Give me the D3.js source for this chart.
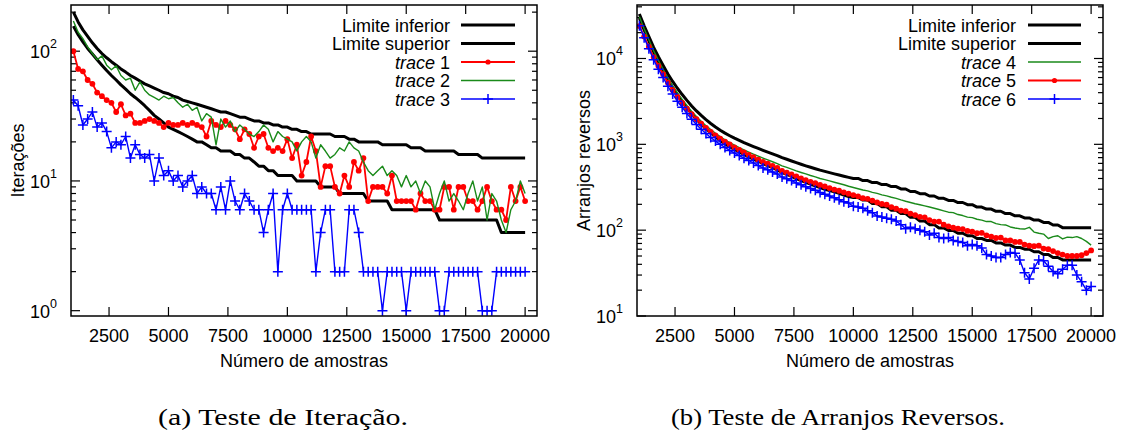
<!DOCTYPE html>
<html>
<head>
<meta charset="utf-8">
<script src="https://cdn.jsdelivr.net/npm/d3@7"></script>
<style>
    body { margin: 0; background: #fff; }
    svg { display: block; }
    text { font-family: "Liberation Sans", Arial, Helvetica, sans-serif; }
</style>
</head>
<body>
<div id="chart"></div>
<script>
// sample sizes (x axis), one value every 200 samples
const samples = d3.range(1000, 20001, 200);
const xTicks = [2500, 5000, 7500, 10000, 12500, 15000, 17500, 20000];

// (a) Teste de Iteração
const iterLower = [156,134,118,105,95,86,78,71,65,60, 55,51,47,44,41,38,35,32,30,28,
    26,25,24,23,22,21,20,20,19,18, 18,17,17,17,16,16,15,15,14,13,
    13,12,12,11,11,11,11,10,10,10, 10,10,9,9,9,9,8,8,8,8,
    8,8,7,7,7,7,7,6,6,6, 6,6,6,6,6,6,6,5,5,5,
    5,5,5,5,5,5,5,5,5,5, 4,4,4,4,4,4];
const iterUpper = [200,168,146,130,116,105,96,89,83,78, 73,69,65,62,59,56,54,52,50,48,
    47,45,44,42,41,40,39,38,37,36, 35,34,34,33,32,31,31,30,29,29,
    28,28,27,27,26,26,25,25,24,24, 23,23,23,23,23,22,22,22,21,21,
    20,20,20,20,20,19,19,19,19,19, 19,18,18,18,17,17,17,17,17,17,
    17,16,16,16,16,16,15,15,15,15, 15,15,15,15,15,15];
const trace1 = [100,73,70,60,56,48,45,42,40,34, 39,32,33,28,28,29,30,29,28,26,
    28,27,27,28,27,28,27,26,22,29, 27,26,29,27,25,21,25,23,18,22,
    23,18,17,18,17,21,15,19,11,14, 22,17,9,13,13,9,8,11,9,14,
    12,15,7,9,9,9,8,11,7,7, 7,7,6,8,7,7,6,6,9,9,
    6,9,9,7,7,6,7,9,7,6, 6,5,9,7,9,7];
const trace2 = [171,140,125,108,96,86,92,78,72,77, 65,60,62,50,58,50,46,44,42,45,
    43,44,40,37,39,35,37,29,33,31, 19,30,26,29,24,27,25,23,22,24,
    27,25,20,24,22,21,20,17,20,22, 20,15,19,17,15,16,18,17,20,18,
    17,14,12,11,12,13,11,12,11,9, 11,9,10,8,10,9,6,8,10,7,
    8,7,6,8,10,7,9,5,8,7, 5,4,6,7,10,8];
const trace3 = [42,38,27,30,34,26,28,24,18,20, 19,22,15,19,16,15,16,10,15,11,
    12,10,11,9,10,11,8,9,8,8, 6,9,6,10,7,6,8,7,6,6,
    4,6,8,2,6,8,6,6,6,6, 6,2,4,6,6,2,2,2,6,6,
    4,2,2,2,2,1,2,2,2,2, 1,2,2,2,2,2,2,1,1,2,
    2,2,2,2,2,2,1,1,1,2, 2,2,2,2,2,2];

// (b) Teste de Arranjos Reversos
const revLower = [29700,21500,16000,11900,9150,7140,5640,4590,3780,3150,
    2665,2270,1960,1715,1523,1365,1224,1110,1013,939,
    873,816,763,713,672,635,596,564,535,503, 469,446,422,398,378,360,343,328,313,300,
    290,279,268,257,247,240,240,224,224,204, 204,187,187,171,171,156,156,141,141,128,
    128,116,116,106,106,99,99,92,92,86, 86,80,80,76,76,71,71,67,67,63,
    63,60,60,56,56,52,52,48,48,45, 45,45,45,45,45,45];
const revUpper = [33000,24000,18000,13500,10500,8300,6600,5400,4500,3800,
    3250,2800,2450,2170,1940,1750,1590,1460,1350,1260,
    1180,1110,1045,990,940,895,852,812,775,740, 700,670,640,612,586,562,540,520,500,484,
    468,453,439,425,412,400,400,378,378,358, 358,340,340,322,322,302,302,282,282,266,
    266,250,250,235,235,222,222,210,210,198, 198,186,186,176,176,166,166,156,156,147,
    147,139,139,131,131,123,123,115,115,107, 107,107,107,107,107,107];
const trace4 = [30700,22200,16500,12300,9500,7470,5900,4800,3980,3340,
    2830,2420,2110,1860,1650,1490,1345,1230,1130,1050,
    980,915,860,812,768,730,692,658,627,597, 562,538,515,490,470,452,433,418,400,388,
    375,362,350,338,325,314,304,294,287,276, 268,258,251,242,235,225,217,210,203,198,
    192,186,180,174,168,162,160,152,148,142, 140,134,131,126,126,119,116,115,109,106,
    104,103,108,95,92,90,80,84,86,79, 83,82,84,80,74,67];
const trace5 = [23800,18000,13700,10400,8190,6560,5230,4290,3580,3030,
    2600,2240,1960,1736,1552,1400,1272,1168,1075,995,
    920,860,805,755,710,662,625,595,562,530, 490,467,445,424,402,382,366,352,336,323,
    309,297,288,276,266,256,248,236,232,221, 210,202,198,186,178,169,166,156,150,143,
    141,131,126,126,116,111,107,104,103,98, 96,92,93,87,84,81,82,76,76,73,
    73,68,66,65,66,61,60,57,54,52, 50,50,50,51,54,58];
const trace6 = [24000,17500,13000,9700,7500,6000,4750,3850,3180,2700,
    2280,1960,1700,1500,1340,1200,1090,1000,920,850,
    790,740,690,648,606,565,530,505,476,450, 416,396,378,355,338,320,305,292,275,262,
    250,238,226,214,207,190,186,180,168,160, 146,142,138,134,128,116,104,108,104,100,
    96,88,92,82,80,82,76,74,72,66, 68,66,62,52,50,48,48,52,55,54,
    45,32,27,36,45,44,38,33,31,35, 39,39,30,25,20,22];

const W = 1126, H = 441;
const plotTop = 5, plotBottom = 316;

const svg = d3.select("#chart").append("svg")
    .attr("width", W)
    .attr("height", H);

function drawPanel(cfg) {
    const x = d3.scaleLinear().domain([900, 20500]).range([cfg.left, cfg.right]);
    const y = d3.scaleLog().domain(cfg.yDomain).range([plotBottom, plotTop]);
    const g = svg.append("g");

    // clip so nothing leaks outside the frame
    const clipId = "clip-" + cfg.id;
    g.append("clipPath").attr("id", clipId)
        .append("rect")
        .attr("x", cfg.left).attr("y", plotTop)
        .attr("width", cfg.right - cfg.left).attr("height", plotBottom - plotTop);

    // ticks: x at bottom and top, y on both sides (log with minors)
    const ticks = g.append("g").attr("stroke", "#000").attr("stroke-width", 1.2);
    xTicks.forEach(t => {
        ticks.append("line").attr("x1", x(t)).attr("x2", x(t)).attr("y1", plotBottom).attr("y2", plotBottom - 9);
        ticks.append("line").attr("x1", x(t)).attr("x2", x(t)).attr("y1", plotTop).attr("y2", plotTop + 9);
    });
    const [lo, hi] = cfg.yDomain;
    for (let k = Math.floor(Math.log10(lo)); k <= Math.ceil(Math.log10(hi)); k++) {
        for (let m = 1; m <= 9; m++) {
            const v = m * Math.pow(10, k);
            if (v < lo || v > hi) continue;
            const len = m === 1 ? 9 : 5;
            ticks.append("line").attr("x1", cfg.left).attr("x2", cfg.left + len).attr("y1", y(v)).attr("y2", y(v));
            ticks.append("line").attr("x1", cfg.right).attr("x2", cfg.right - len).attr("y1", y(v)).attr("y2", y(v));
            if (m === 1) {
                const lab = g.append("text")
                    .attr("x", cfg.left - 14)
                    .attr("y", y(v) + 7)
                    .attr("text-anchor", "end")
                    .attr("font-size", 18);
                lab.append("tspan").text("10");
                lab.append("tspan").attr("dy", -10).attr("font-size", 12.5).text(k);
            }
        }
    }

    g.selectAll(".xlab")
        .data(xTicks)
        .join("text")
        .attr("x", d => x(d))
        .attr("y", 342)
        .attr("text-anchor", "middle")
        .attr("font-size", 18)
        .text(d => d);

    g.append("text")
        .attr("x", (cfg.left + cfg.right) / 2)
        .attr("y", 367)
        .attr("text-anchor", "middle")
        .attr("font-size", 18)
        .text("Número de amostras");

    g.append("text")
        .attr("transform", `translate(${cfg.titleX},${(plotTop + plotBottom) / 2}) rotate(-90)`)
        .attr("text-anchor", "middle")
        .attr("font-size", 18)
        .text(cfg.yTitle);

    // series
    const line = d3.line()
        .x((d, i) => x(samples[i]))
        .y(d => y(d));
    const plot = g.append("g").attr("clip-path", `url(#${clipId})`);

    cfg.series.forEach(s => {
        plot.append("path")
            .attr("d", line(s.values))
            .attr("fill", "none")
            .attr("stroke", s.color)
            .attr("stroke-width", s.width)
            .attr("stroke-linejoin", "round");
        if (s.marker === "dot") {
            plot.append("g").selectAll("circle")
                .data(s.values)
                .join("circle")
                .attr("cx", (d, i) => x(samples[i]))
                .attr("cy", d => y(d))
                .attr("r", 2.9)
                .attr("fill", s.color);
        } else if (s.marker === "plus") {
            plot.append("g").selectAll("path")
                .data(s.values)
                .join("path")
                .attr("d", (d, i) => `M${x(samples[i]) - 5},${y(d)}h10M${x(samples[i])},${y(d) - 5}v10`)
                .attr("stroke", s.color)
                .attr("stroke-width", 1.5);
        }
    });

    // legend
    cfg.series.forEach((s, i) => {
        const cy = 25 + i * 18.5;
        const t = g.append("text")
            .attr("x", cfg.legendText)
            .attr("y", cy + 6.5)
            .attr("text-anchor", "end")
            .attr("font-size", 18);
        if (s.italic) {
            t.append("tspan").attr("font-style", "italic").text(s.label);
            t.append("tspan").text(" " + s.num);
        } else {
            t.text(s.label);
        }
        const [l0, l1] = cfg.legendLine;
        g.append("line")
            .attr("x1", l0).attr("x2", l1).attr("y1", cy).attr("y2", cy)
            .attr("stroke", s.color)
            .attr("stroke-width", s.width);
        const mx = (l0 + l1) / 2;
        if (s.marker === "dot") {
            g.append("circle").attr("cx", mx).attr("cy", cy).attr("r", 2.6).attr("fill", s.color);
        } else if (s.marker === "plus") {
            g.append("path").attr("d", `M${mx - 5},${cy}h10M${mx},${cy - 5}v10`)
                .attr("stroke", s.color).attr("stroke-width", 1.5);
        }
    });

    // frame
    g.append("rect")
        .attr("x", cfg.left).attr("y", plotTop)
        .attr("width", cfg.right - cfg.left).attr("height", plotBottom - plotTop)
        .attr("fill", "none")
        .attr("stroke", "#000")
        .attr("stroke-width", 1.5);

    // caption below the panel
    g.append("text")
        .attr("x", cfg.captionX)
        .attr("y", 425)
        .attr("text-anchor", "middle")
        .attr("font-size", 23)
        .attr("textLength", cfg.captionW)
        .attr("lengthAdjust", "spacingAndGlyphs")
        .style("font-family", '"Liberation Serif", "Times New Roman", serif')
        .text(cfg.caption);
}

const black = "#000", red = "#ff0000", green = "#1a8a1a", blue = "#0000ff";

drawPanel({
    id: "iter",
    left: 71, right: 537,
    yDomain: [0.91, 227],
    yTitle: "Iterações",
    titleX: 24,
    legendText: 450,
    legendLine: [461, 515],
    caption: "(a) Teste de Iteração.",
    captionX: 283, captionW: 250,
    series: [
        { label: "Limite inferior", values: iterLower, color: black, width: 3 },
        { label: "Limite superior", values: iterUpper, color: black, width: 3 },
        { label: "trace", num: 1, italic: true, values: trace1, color: red, width: 1.8, marker: "dot" },
        { label: "trace", num: 2, italic: true, values: trace2, color: green, width: 1.4 },
        { label: "trace", num: 3, italic: true, values: trace3, color: blue, width: 1.4, marker: "plus" }
    ]
});

drawPanel({
    id: "rev",
    left: 637, right: 1103,
    yDomain: [10, 42000],
    yTitle: "Arranjos reversos",
    titleX: 589.5,
    legendText: 1016,
    legendLine: [1028, 1081],
    caption: "(b) Teste de Arranjos Reversos.",
    captionX: 838, captionW: 334,
    series: [
        { label: "Limite inferior", values: revLower, color: black, width: 3 },
        { label: "Limite superior", values: revUpper, color: black, width: 3 },
        { label: "trace", num: 4, italic: true, values: trace4, color: green, width: 1.4 },
        { label: "trace", num: 5, italic: true, values: trace5, color: red, width: 1.8, marker: "dot" },
        { label: "trace", num: 6, italic: true, values: trace6, color: blue, width: 1.4, marker: "plus" }
    ]
});
</script>
</body>
</html>
